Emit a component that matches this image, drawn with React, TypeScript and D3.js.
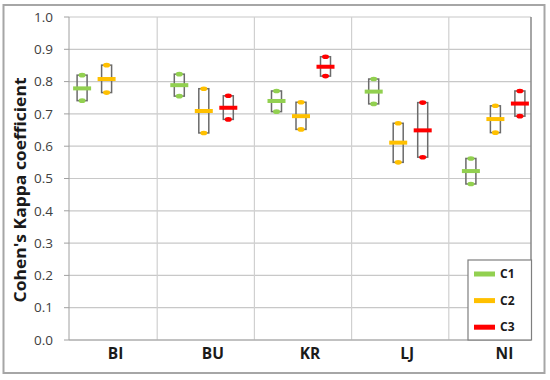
import React from "react";
import * as d3 from "d3";

const categories = ["BI", "BU", "KR", "LJ", "NI"];
const seriesNames = ["C1", "C2", "C3"];
const seriesColors = ["#92D050", "#FFC000", "#FF0000"];
const c1Low = [0.741, 0.755, 0.707, 0.731, 0.483];
const c1Mean = [0.779, 0.789, 0.740, 0.769, 0.523];
const c1High = [0.820, 0.823, 0.771, 0.808, 0.562];
const c2Low = [0.766, 0.641, 0.652, 0.550, 0.642];
const c2Mean = [0.808, 0.709, 0.693, 0.611, 0.684];
const c2High = [0.851, 0.778, 0.736, 0.671, 0.725];
const c3Low = [null, 0.683, 0.817, 0.566, 0.693];
const c3Mean = [null, 0.719, 0.846, 0.649, 0.732];
const c3High = [null, 0.756, 0.877, 0.735, 0.771];
const yTicks = [0, 0.1, 0.2, 0.3, 0.4, 0.5, 0.6, 0.7, 0.8, 0.9, 1.0];

const W = 550;
const H = 380;
const plot = { left: 69, right: 531, top: 17, bottom: 340 };

export default function App() {
  const y = d3.scaleLinear().domain([0, 1]).range([plot.bottom, plot.top]);
  const x = d3.scaleBand<string>().domain(categories).range([58, 544]).padding(0);
  const sub = d3.scalePoint<string>().domain(seriesNames).range([-24.5, 24.5]);
  const lows = [c1Low, c2Low, c3Low];
  const means = [c1Mean, c2Mean, c3Mean];
  const highs = [c1High, c2High, c3High];

  const marks: JSX.Element[] = [];
  categories.forEach((cat, ci) => {
    seriesNames.forEach((s, si) => {
      const lo = lows[si][ci];
      const me = means[si][ci];
      const hi = highs[si][ci];
      if (lo == null || me == null || hi == null) return;
      const cx = (x(cat) as number) + x.bandwidth() / 2 + (sub(s) as number);
      const col = seriesColors[si];
      marks.push(
        <g key={cat + s}>
          <rect x={cx - 5} y={y(hi)} width={10} height={y(lo) - y(hi)} fill="none" stroke="#6b6b6b" strokeWidth={1.5} />
          <ellipse cx={cx} cy={y(hi)} rx={3.5} ry={2.3} fill={col} />
          <ellipse cx={cx} cy={y(lo)} rx={3.5} ry={2.3} fill={col} />
          <rect x={cx - 9} y={y(me) - 2} width={18} height={4} fill={col} />
        </g>
      );
    });
  });

  const boundaries = categories.slice(1).map((c) => (x(c) as number) + 2);

  return (
    <svg width={W} height={H} style={{ position: "absolute", left: 0, top: 0 }} fontFamily="'Open Sans', sans-serif">
      <rect x={0} y={0} width={W} height={H} fill="#fff" />
      <rect x={3.5} y={5} width={541} height={368} fill="none" stroke="#a6a6a6" strokeWidth={2} />
      {yTicks.map((t) => (
        <line key={"h" + t} x1={plot.left} x2={plot.right} y1={y(t)} y2={y(t)} stroke="#c8c8c8" strokeWidth={1.2} />
      ))}
      {boundaries.map((b, i) => (
        <line key={"v" + i} x1={b} x2={b} y1={plot.top} y2={plot.bottom} stroke="#d0d0d0" strokeWidth={1.2} />
      ))}
      <line x1={plot.left} x2={plot.left} y1={plot.top} y2={plot.bottom} stroke="#a0a0a0" />
      <line x1={plot.right} x2={plot.right} y1={plot.top} y2={plot.bottom} stroke="#888" strokeWidth={1.5} />
      <line x1={plot.left} x2={plot.right} y1={plot.bottom} y2={plot.bottom} stroke="#a0a0a0" />
      {yTicks.map((t) => (
        <g key={"t" + t}>
          <line x1={plot.left - 5} x2={plot.left} y1={y(t)} y2={y(t)} stroke="#a0a0a0" />
          <text x={plot.left - 16} y={y(t)} dy="0.35em" textAnchor="end" fontSize={13.5} fill="#404040">
            {d3.format(".1f")(t)}
          </text>
        </g>
      ))}
      {categories.map((c) => (
        <text key={"c" + c} x={(x(c) as number) + x.bandwidth() / 2 + 9} y={359} textAnchor="middle" fontSize={15.5} fontWeight="bold" fill="#1a1a1a">
          {c}
        </text>
      ))}
      <text transform="translate(26,190) rotate(-90)" textAnchor="middle" fontSize={15.5} fontWeight="bold" fill="#1a1a1a" textLength={225} lengthAdjust="spacingAndGlyphs">
        Cohen's Kappa coefficient
      </text>
      {marks}
      <g>
        <rect x={468} y={260} width={63.5} height={80} fill="#fff" stroke="#7f7f7f" strokeWidth={1.2} />
        {seriesNames.map((s, i) => (
          <g key={"l" + s}>
            <rect x={474} y={274 + i * 26.6 - 2.5} width={21} height={5} fill={seriesColors[i]} />
            <text x={500} y={274 + i * 26.6} dy="0.35em" fontSize={12} fontWeight="bold" fill="#1a1a1a">
              {s}
            </text>
          </g>
        ))}
      </g>
    </svg>
  );
}
